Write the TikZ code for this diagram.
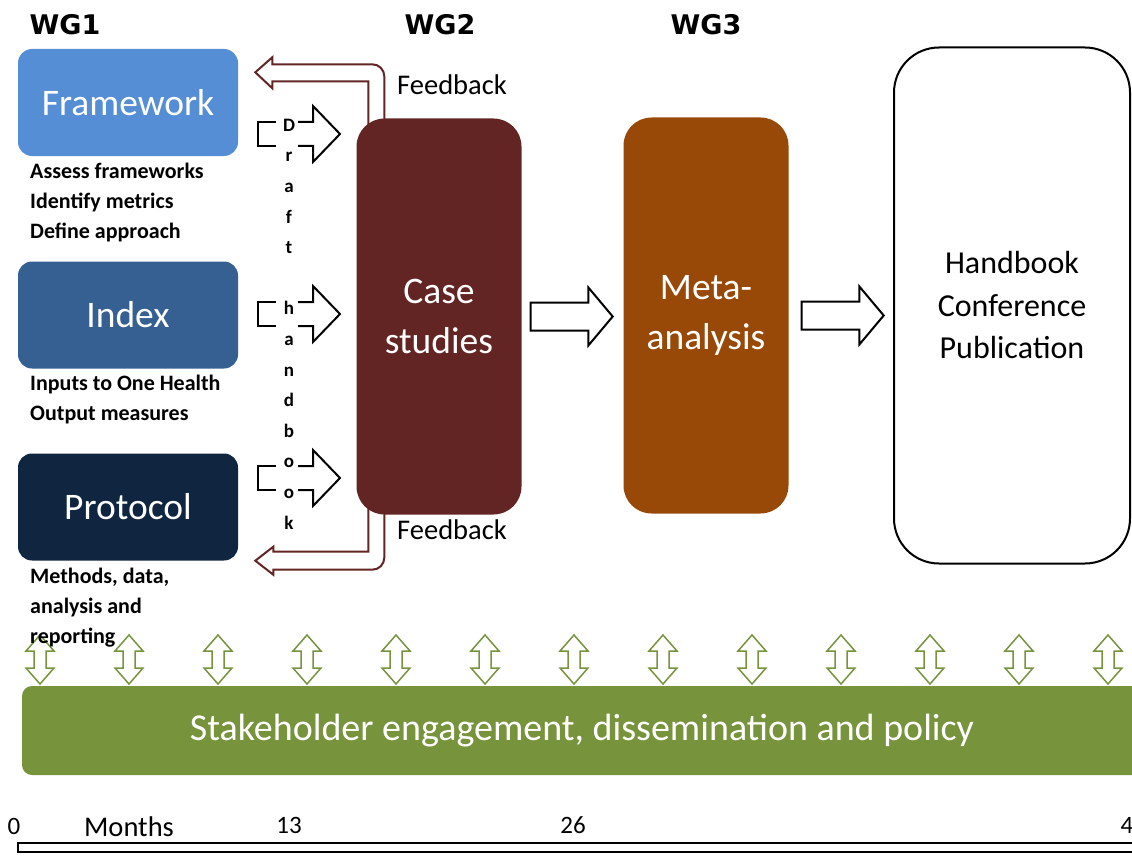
\documentclass[tikz,border=0pt]{standalone}
\usepackage{fontspec}
\setmainfont{Carlito}
\newfontfamily\headfont{DejaVu Sans}
\usetikzlibrary{shapes.arrows,backgrounds,positioning}

\definecolor{framecol}{HTML}{558ED5}
\definecolor{indexcol}{HTML}{376092}
\definecolor{protcol}{HTML}{10253F}
\definecolor{casecol}{HTML}{632523}
\definecolor{metacol}{HTML}{984807}
\definecolor{greencol}{HTML}{77933C}

\newcommand{\fsz}[2]{\fontsize{#1}{#2}\selectfont}

\begin{document}
\begin{tikzpicture}[x=1pt,y=-1pt,
        wgbox/.style={fill=#1,rounded corners=14pt,minimum width=220pt,minimum height=107pt,
            text=white,font=\fsz{37.5}{45}},
        sublbl/.style={anchor=north west,inner sep=0pt,align=left,font=\fsz{22}{30}\bfseries},
        tallbox/.style={fill=#1,rounded corners=28pt,minimum width=165pt,minimum height=396pt,
            text=white,align=center,font=\fsz{37.5}{50}},
        wglbl/.style={font=\headfont\bfseries\fsz{27}{30}},
        fbline/.style={draw=casecol,line width=2pt},
        fblbl/.style={font=\fsz{28.5}{34}},
        bigarrow/.style={single arrow,draw,line width=2pt,fill=white,inner sep=0pt,inner ysep=13pt,
            single arrow head extend=15pt,single arrow tip angle=100,minimum height=82pt},
        draftarrow/.style={draw,line width=2pt},
        engage/.style={draw=greencol,line width=1.5pt,fill=white},
        monthlbl/.style={font=\fsz{25}{30}}
    ]
    \useasboundingbox (0,0) rectangle (1132,856);

    % working groups
    \node[wglbl] (wg1) at (65,25) {WG1};
    \node[wglbl] (wg2) at (440,25) {WG2};
    \node[wglbl] (wg3) at (706,25) {WG3};

    % WG1
    \node[wgbox=framecol] (frame) at (128,102.5) {Framework};
    \node[wgbox=indexcol] (index) at (128,315) {Index};
    \node[wgbox=protcol] (proto) at (128,507) {Protocol};

    \node[sublbl] (frametxt) at (30,163) {Assess frameworks\\Identify metrics\\Define approach};
    \node[sublbl] (indextxt) at (30,375) {Inputs to One Health\\Output measures};
    \node[sublbl] (prototxt) at (30,568) {Methods, data,\\analysis and\\reporting};

    % draft handbook
    \node[align=center,inner sep=0pt,font=\fsz{19}{30.6}\bfseries] (draft) at (289,324)
        {D\\r\\a\\f\\t\\\mbox{}\\h\\a\\n\\d\\b\\o\\o\\k};
    \foreach \yc in {134,314,478}{
        \draw[draftarrow] (276,\yc-12) -- (258,\yc-12) -- (258,\yc+12) -- (276,\yc+12);
        \draw[draftarrow] (298,\yc-12) -- (313,\yc-12) -- (313,\yc-28) -- (340,\yc)
            -- (313,\yc+28) -- (313,\yc+12) -- (298,\yc+12);
    }

    % WG2, WG3 and outputs
    \node[tallbox=casecol] (case) at (439,316.5) {Case\\studies};
    \node[tallbox=metacol] (meta) at (706,315.5) {Meta-\\analysis};
    \node[draw,line width=2pt,rounded corners=45pt,minimum width=236pt,minimum height=516pt,
        align=center,font=\fsz{32}{42.5}] (out) at (1012,305.5) {Handbook\\Conference\\Publication};

    \node[bigarrow,right=8pt of case] (casetometa) {};
    \node[bigarrow,right=12pt of meta] (metatoout) {};

    \node[fblbl] (fbtop) at (452,85) {Feedback};
    \node[fblbl] (fbbot) at (452,530) {Feedback};

    % stakeholders
    \node[fill=greencol,rounded corners=10pt,minimum width=1120pt,minimum height=89pt,
        text=white,font=\fsz{38}{45}] (stake) at (582,730.5)
        {Stakeholder engagement, dissemination and policy};

    % timeline
    \draw[line width=1.5pt] (18,843) rectangle (1145,852);
    \node[monthlbl] (m0) at (14,826) {0};
    \node[monthlbl,font=\fsz{28.5}{34}] (months) at (129,827) {Months};
    \node[monthlbl] (m13) at (289,825) {13};
    \node[monthlbl] (m26) at (573,825) {26};
    \node[monthlbl] (m48) at (1127,825) {4};

    \begin{scope}[on background layer]
        \draw[fbline] ([xshift=12pt,yshift=-12pt]case.north west) -- ++(0,-49) -- ++(-96,0)
            -- ++(0,7) -- ++(-17,-16) -- ++(17,-15) -- ++(0,7) -- ++(100,0)
            arc[start angle=90,end angle=0,radius=12pt] -- ++(0,54);
        \draw[fbline] ([xshift=12pt,yshift=12pt]case.south west) -- ++(0,49) -- ++(-95,0)
            -- ++(0,-5) -- ++(-18,14) -- ++(18,14) -- ++(0,-5) -- ++(99,0)
            arc[start angle=270,end angle=360,radius=12pt] -- ++(0,-55);
        \foreach \i in {0,...,12}
            \draw[engage] (40+89*\i,635) -- ++(14,16) -- ++(-8,0) -- ++(0,17) -- ++(8,0)
                -- ++(-14,16) -- ++(-14,-16) -- ++(8,0) -- ++(0,-17) -- ++(-8,0) -- cycle;
    \end{scope}
\end{tikzpicture}
\end{document}
